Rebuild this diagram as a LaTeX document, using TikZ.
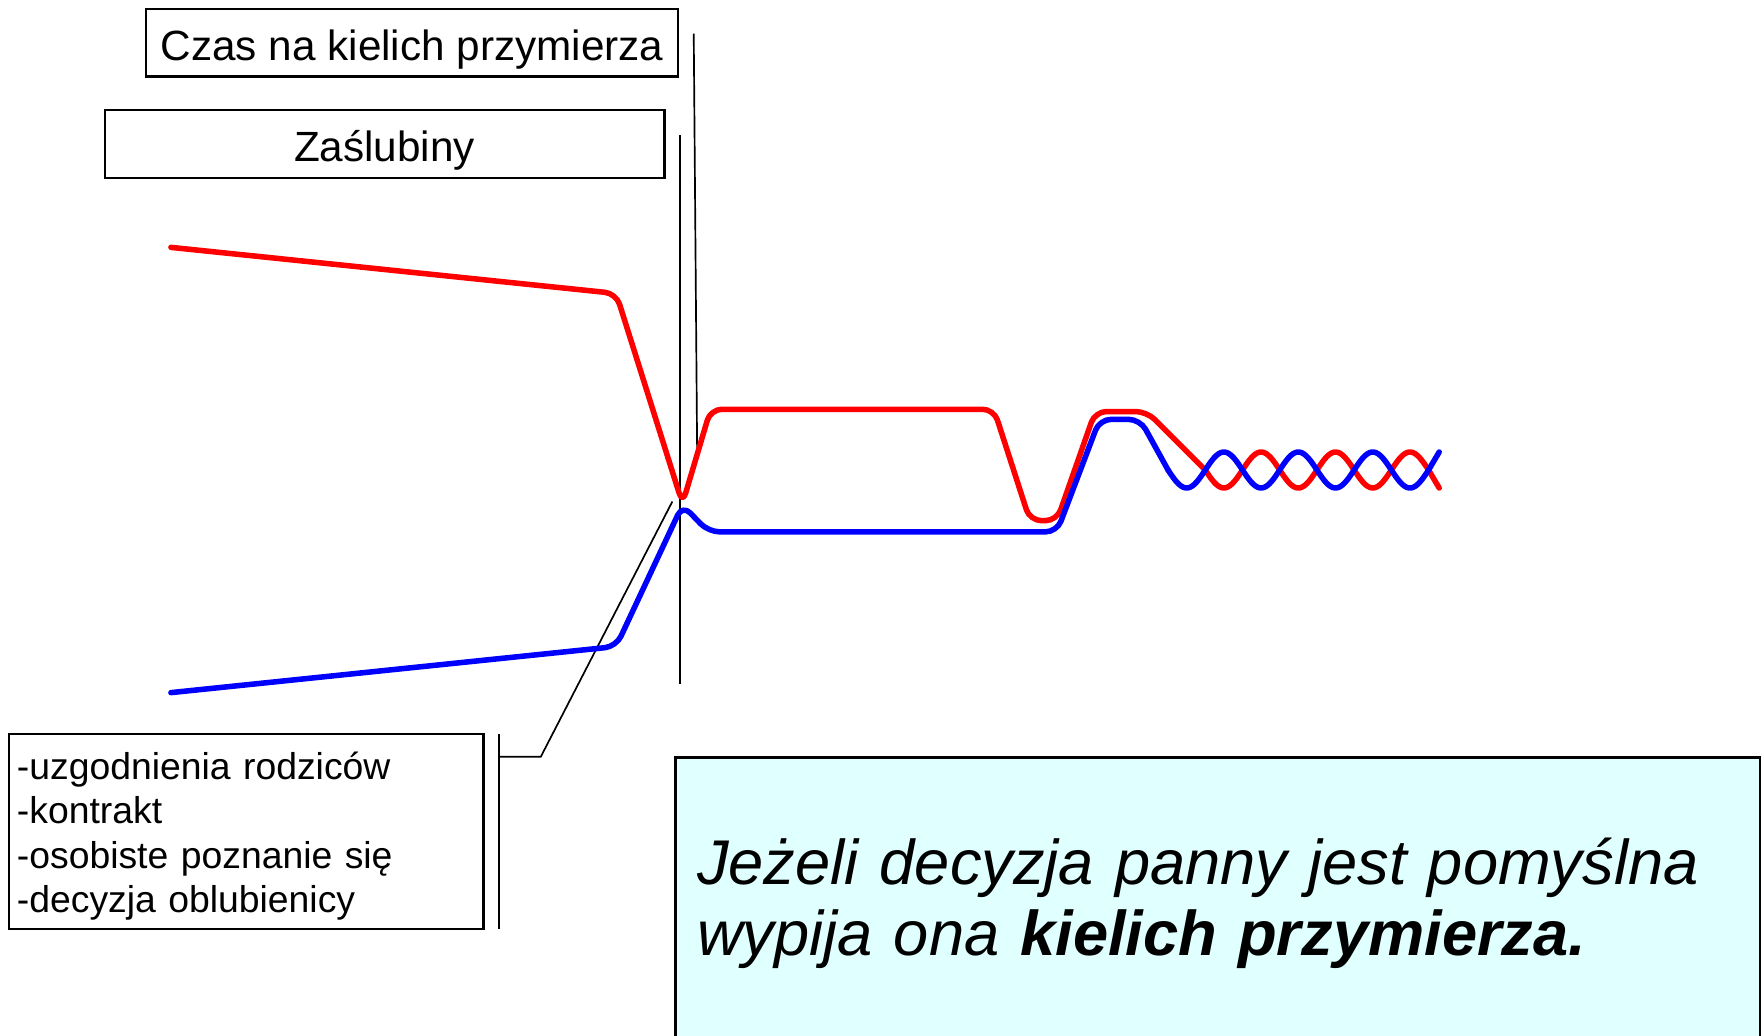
\documentclass[tikz,border=0pt]{standalone}
\usepackage{fontspec}
\setmainfont{Liberation Sans}
\usepackage{tikz}
\usetikzlibrary{positioning}
\definecolor{paleCyan}{RGB}{224,255,255}

\begin{document}
\begin{tikzpicture}[
    x=0.02cm, y=-0.02cm,
    header/.style={
		rectangle,
		draw=black,
		line width=1.1pt,
		minimum height=1.2cm,
		text height=21.9pt,
		text depth=4.3pt,
		text centered,
		font=\fontsize{21.4}{25}\selectfont
	},
	listbox/.style={
		rectangle,
		draw=black,
		line width=1.1pt,
		inner xsep=0.14cm,
		text width=8.16cm,
		minimum height=3.46cm,
		align=left,
		font=\fontsize{18.9}{22.5}\selectfont
	},
	msgbox/.style={
		rectangle,
		fill=paleCyan,
		inner xsep=0.38cm,
		text width=18.52cm,
		minimum height=5.18cm,
		align=left,
		font=\fontsize{32}{35.8}\selectfont\itshape
	},
	marker/.style={draw=black, line width=0.85pt},
	bride/.style={draw=red, line width=2.8pt, line join=round, line cap=round},
	groom/.style={draw=blue, line width=2.8pt, line join=round, line cap=round}
  ]
  \useasboundingbox (0,0) rectangle (1568,921);

    % We start by placing the blocks
  \node [header, minimum width=9.46cm] (chalice) at (366.5,38) {Czas na kielich przymierza};
  \node [header, minimum width=9.96cm] (wedding) at (342,128) {Zaślubiny};

  \node [listbox] (steps) at (219,739.5)
 {%
  \rule{0pt}{0.99em}-uzgodnienia rodziców\\
  -kontrakt\\
  -osobiste poznanie się\\
  -decyzja oblubienicy
 };

  \node [msgbox] (msg) at (1083,803.5)
 {%
  Jeżeli decyzja panny jest pomyślna\\
  wypija ona \textbf{kielich przymierza.}
 };
 \draw [black, line width=1.1pt] (msg.south west) -- (msg.north west) -- (msg.north east) -- (msg.south east);

  % time markers
 \coordinate (weddingTop) at (605,120);
 \coordinate (weddingEnd) at (605,608);
 \coordinate (chaliceTop) at (617,30);
 \coordinate (chaliceEnd) at (620,398);
 \draw [marker] (weddingTop) -- (weddingEnd);
 \draw [marker] (chaliceTop) -- (chaliceEnd);

  % bracket for the list
 \coordinate (bracketTop) at (444,653);
 \coordinate (bracketEnd) at (444,826);
 \coordinate (bracketMid) at (444,673);
 \coordinate (bend) at (481,673);
 \coordinate (meet) at (598,446);
 \draw [marker] (bracketTop) -- (bracketEnd);
 \draw [marker] (bracketMid) -- (bend) -- (meet);

  % the two lines
 \draw [bride, rounded corners=0.2cm] (152,220) -- (548,261) -- (607,448) -- (632,364)
   -- (884,364) -- (916,463) -- (940,463) -- (974,366) -- (1020,366) -- (1071.95,418);
 \draw [bride] plot[domain=1071.95:1270.5, samples=100] (\x, {418-16*cos(5.438*(\x-1254))}) -- (1280,434);
 \draw [groom, rounded corners=0.2cm] (152,616) -- (548,575) -- (607,449) -- (630,473)
   -- (940,473) -- (978,373) -- (1014,373) -- (1038.85,418);
 \draw [groom] plot[domain=1038.85:1270.5, samples=120] (\x, {418+16*cos(5.438*(\x-1254))}) -- (1280,402);

\end{tikzpicture}
\end{document}
